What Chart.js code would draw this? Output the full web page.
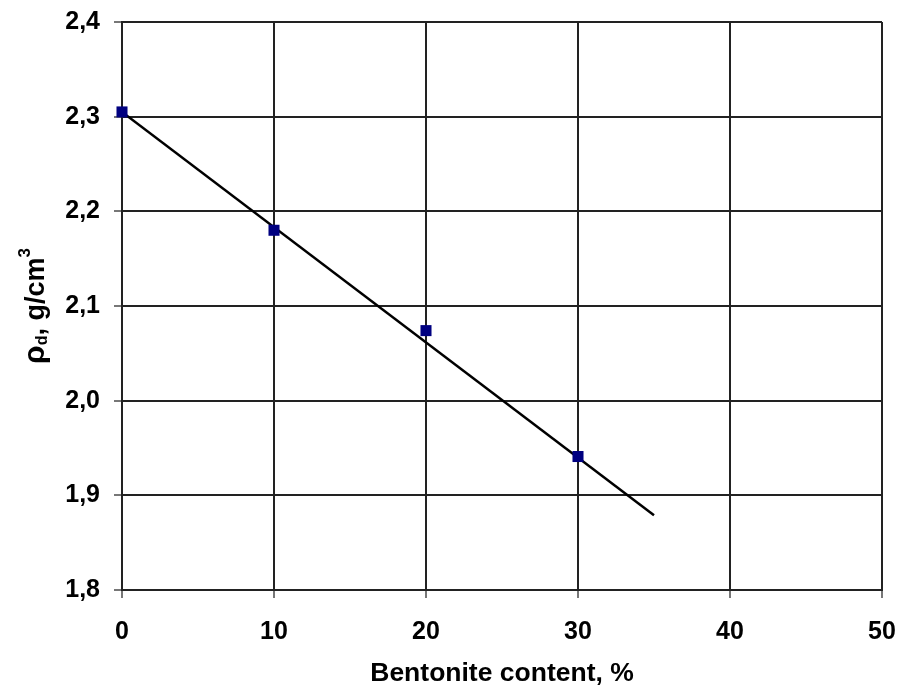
<!DOCTYPE html>
<html>
<head>
<meta charset="utf-8">
<script src="https://cdn.jsdelivr.net/npm/chart.js@4"></script>
<style>
  html, body { margin: 0; padding: 0; background: #fff; }
  #wrap { width: 899px; height: 693px; }
</style>
</head>
<body>
<div id="wrap"><canvas id="densityChart" width="899" height="693"></canvas></div>
<script>
// measured points: bentonite content (%) vs dry density (g/cm3)
const bentonite = [0, 10, 20, 30];
const density = [2.305, 2.18, 2.074, 1.941];

// linear fit drawn from 0 to 35 %
const fitX = [0, 35];
const fitY = [2.305, 1.879];

const xTicks = [0, 10, 20, 30, 40, 50];
const yTicks = [1.8, 1.9, 2.0, 2.1, 2.2, 2.3, 2.4];

const FONT = 'Arial, "Liberation Sans", sans-serif';
const gridColor = '#222';

// rho_d with subscript and cubic superscript, drawn rotated on the left
const yTitlePlugin = {
  id: 'yTitle',
  afterDraw(chart) {
    const ctx = chart.ctx;
    const parts = [
      { text: 'ρ', font: 'bold 30px ' + FONT, dy: 0 },
      { text: 'd', font: 'bold 16px ' + FONT, dy: 3 },
      { text: ', g/cm', font: 'bold 27px ' + FONT, dy: 0 },
      { text: '3', font: 'bold 17px ' + FONT, dy: -14 }
    ];
    let total = 0;
    parts.forEach(p => { ctx.font = p.font; p.w = ctx.measureText(p.text).width; total += p.w; });
    const cy = (chart.chartArea.top + chart.chartArea.bottom) / 2;
    ctx.save();
    ctx.translate(44, cy + total / 2);
    ctx.rotate(-Math.PI / 2);
    ctx.fillStyle = '#000';
    ctx.textBaseline = 'alphabetic';
    ctx.textAlign = 'left';
    let x = 0;
    parts.forEach(p => {
      ctx.font = p.font;
      ctx.fillText(p.text, x, p.dy);
      x += p.w;
    });
    ctx.restore();
  }
};

const ctx = document.getElementById('densityChart').getContext('2d');

new Chart(ctx, {
  type: 'scatter',
  data: {
    datasets: [
      {
        label: 'measured',
        data: bentonite.map((b, i) => ({ x: b, y: density[i] })),
        pointStyle: 'rect',
        pointRadius: 7.8,
        backgroundColor: '#000080',
        borderWidth: 0,
        clip: false,
        order: 0
      },
      {
        label: 'fit',
        data: fitX.map((b, i) => ({ x: b, y: fitY[i] })),
        showLine: true,
        borderColor: '#000',
        borderWidth: 2.5,
        pointRadius: 0,
        order: 1
      }
    ]
  },
  options: {
    responsive: false,
    animation: false,
    layout: { padding: { left: 0, top: 22, right: 17, bottom: 0 } },
    plugins: {
      legend: { display: false },
      tooltip: { enabled: false }
    },
    scales: {
      x: {
        type: 'linear',
        min: 0,
        max: 50,
        afterBuildTicks: s => { s.ticks = xTicks.map(v => ({ value: v })); },
        afterFit: s => {
          s.height = 103;
          s.paddingLeft = 0;
          s.paddingRight = 0;
        },
        grid: { color: gridColor, lineWidth: 2, tickLength: 8, tickColor: '#777' },
        border: { color: gridColor, width: 2 },
        ticks: {
          color: '#000',
          padding: 19,
          maxRotation: 0,
          font: { family: FONT, size: 25, weight: 'bold' }
        },
        title: {
          display: true,
          text: 'Bentonite content, %',
          color: '#000',
          padding: { top: 0, bottom: 3 },
          font: { family: FONT, size: 26.5, weight: 'bold' }
        }
      },
      y: {
        type: 'linear',
        min: 1.8,
        max: 2.4,
        afterBuildTicks: s => { s.ticks = yTicks.map(v => ({ value: v })); },
        afterFit: s => {
          s.width = 122;
          s.paddingTop = 0;
          s.paddingBottom = 0;
        },
        grid: { color: gridColor, lineWidth: 2, tickLength: 8, tickColor: '#777' },
        border: { color: gridColor, width: 2 },
        ticks: {
          color: '#000',
          padding: 14,
          font: { family: FONT, size: 25, weight: 'bold' },
          callback: v => v.toFixed(1).replace('.', ',')
        }
      }
    }
  },
  plugins: [yTitlePlugin]
});
</script>
</body>
</html>
